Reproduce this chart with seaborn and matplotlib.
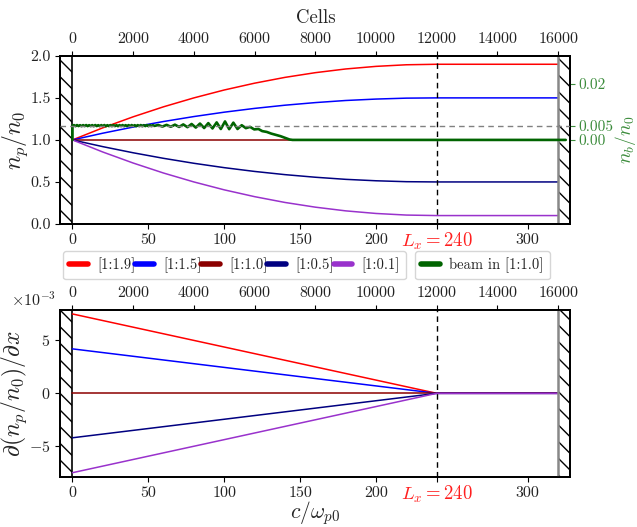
import numpy as np
import pandas as pd
import seaborn as sns
import matplotlib
matplotlib.use("Agg")
import matplotlib.pyplot as plt
from matplotlib.ticker import ScalarFormatter

# ---- data -------------------------------------------------------------
# density profiles n_p/n_0 sampled along x (c/omega_p0)
x_prof = [0, 20, 40, 60, 80, 100, 120, 140, 160, 180, 200, 220, 240, 320]
n_19 = [1.000, 1.144, 1.275, 1.394, 1.500, 1.594, 1.675, 1.744, 1.800, 1.844, 1.875, 1.894, 1.900, 1.900]
n_15 = [1.000, 1.080, 1.153, 1.219, 1.278, 1.330, 1.375, 1.413, 1.444, 1.469, 1.486, 1.497, 1.500, 1.500]
n_10 = [1.000, 1.000, 1.000, 1.000, 1.000, 1.000, 1.000, 1.000, 1.000, 1.000, 1.000, 1.000, 1.000, 1.000]
n_05 = [1.000, 0.920, 0.847, 0.781, 0.722, 0.670, 0.625, 0.587, 0.556, 0.531, 0.514, 0.503, 0.500, 0.500]
n_01 = [1.000, 0.856, 0.725, 0.606, 0.500, 0.406, 0.325, 0.256, 0.200, 0.156, 0.125, 0.106, 0.100, 0.100]

# density gradients d(n_p/n_0)/dx
x_grad = [0, 240, 320]
g_19 = [0.0075, 0.0, 0.0]
g_15 = [0.0042, 0.0, 0.0]
g_10 = [0.0, 0.0, 0.0]
g_05 = [-0.0042, 0.0, 0.0]
g_01 = [-0.0075, 0.0, 0.0]

labels = ["[1:1.9]", "[1:1.5]", "[1:1.0]", "[1:0.5]", "[1:0.1]"]
colors = ["#ff0000", "#0000ff", "#8b0000", "#000080", "#9932cc"]

# beam density n_b/n_0 in the [1:1.0] plasma
beam_x = [0, 0, 1, 2, 3, 4, 5, 6, 7, 8, 9, 10, 11, 12, 13, 14, 15, 16, 17, 18, 19,
          20, 21, 22, 23, 24, 25, 26, 27, 28, 29, 30, 31, 32, 33, 34, 35, 36, 37,
          38, 39, 40, 41, 42, 43, 44, 45, 46, 47, 48, 49, 50, 51, 52, 53, 54,
          56.5, 59.25, 62, 64.75, 67.5, 70.25, 73, 75.75, 78.5, 81.25, 84, 86.75,
          89.5, 92.25, 95, 97.75, 100.5, 103.25, 106, 108.75, 111.5, 114.25, 117,
          119.75, 122.5, 125, 128, 131, 134, 137, 140, 143, 145, 325]
beam_nb = [0.0, 0.00510,
           0.00528, 0.00492, 0.00530, 0.00494, 0.00526, 0.00490, 0.00528, 0.00494,
           0.00530, 0.00492, 0.00526, 0.00494, 0.00528, 0.00490, 0.00530, 0.00494,
           0.00526, 0.00492, 0.00528, 0.00494, 0.00530, 0.00490, 0.00526, 0.00494,
           0.00528, 0.00492, 0.00530, 0.00494, 0.00526, 0.00490, 0.00528, 0.00494,
           0.00530, 0.00492, 0.00526, 0.00494, 0.00528, 0.00490, 0.00530, 0.00494,
           0.00526, 0.00492, 0.00528, 0.00494, 0.00530, 0.00490, 0.00526, 0.00494,
           0.00528, 0.00492, 0.00530, 0.00494, 0.00526, 0.00500,
           0.00532, 0.00476, 0.00538, 0.00470, 0.00544, 0.00464, 0.00553, 0.00455,
           0.00569, 0.00440, 0.00584, 0.00425, 0.00599, 0.00410, 0.00625, 0.00390,
           0.00660, 0.00384, 0.00616, 0.00390, 0.00525, 0.00420, 0.00465, 0.00375,
           0.00390, 0.00315, 0.00285, 0.00225, 0.00180, 0.00135, 0.00075, 0.00015,
           0.0, 0.0]

x_ticks = [0, 50, 100, 150, 200, 240, 300]
x_tick_labels = ["0", "50", "100", "150", "200", "", "300"]
lx_label = r"$L_x = 240$"
cell_ticks = [0, 2000, 4000, 6000, 8000, 10000, 12000, 14000, 16000]
nb_ticks = [0.0, 0.005, 0.02]
nb_tick_labels = ["0.00", "0.005", "0.02"]

L_x = 240
x_end = 320
cells_per_unit = 50

# ---- style ------------------------------------------------------------
sns.set_style("ticks")
plt.rcParams.update({
    "font.family": ["cmr10", "DejaVu Serif"],
    "mathtext.fontset": "cm",
    "axes.formatter.use_mathtext": True,
    "axes.unicode_minus": True,
    "font.size": 11,
    "xtick.labelsize": 11.5,
    "ytick.labelsize": 11.5,
    "text.color": "#222222",
    "xtick.color": "black",
    "ytick.color": "black",
    "xtick.labelcolor": "#222222",
    "ytick.labelcolor": "#222222",
    "axes.edgecolor": "black",
    "axes.linewidth": 1.3,
    "hatch.linewidth": 1.0,
})

GREEN = "#006400"
GREEN_TXT = "#3c8c3c"
XLIM = (-8, 328)

fig = plt.figure(figsize=(6.37, 5.27), dpi=100)
ax1 = fig.add_axes([0.0947, 0.575, 0.8006, 0.319])
ax2 = fig.add_axes([0.0947, 0.0955, 0.8006, 0.3163])


def walls(ax):
    ax.axvspan(XLIM[0], 0, facecolor="white", edgecolor="black", hatch="\\\\", lw=0, zorder=0.5)
    ax.axvspan(x_end, XLIM[1], facecolor="white", edgecolor="black", hatch="\\\\", lw=0, zorder=0.5)
    ax.axvline(0, color="black", lw=1.2, zorder=1)
    ax.axvline(x_end, color="#888888", lw=1.8, zorder=3)
    ax.axvline(L_x, color="black", ls="--", lw=1.0, dashes=(4, 3), zorder=3)


def x_axis(ax):
    ax.set_xlim(*XLIM)
    ax.set_xticks(x_ticks)
    ax.set_xticklabels(x_tick_labels)
    ax.annotate(lx_label, xy=(L_x, 0), xycoords=("data", "axes fraction"),
                xytext=(0, -5.0), textcoords="offset points", ha="center", va="top",
                fontsize=13.5, color="#ff2020", annotation_clip=False)
    top = ax.twiny()
    top.set_xlim(XLIM[0] * cells_per_unit, XLIM[1] * cells_per_unit)
    top.set_xticks(cell_ticks)
    return top


# ---- top panel: density profiles + beam -------------------------------
profiles = [n_19, n_15, n_10, n_05, n_01]
for prof, lab, col in zip(profiles, labels, colors):
    sns.lineplot(x=x_prof, y=prof, ax=ax1, color=col, lw=1.1, label=lab, legend=False)
walls(ax1)
ax1.set_ylim(0, 2)
ax1.set_yticks([0.0, 0.5, 1.0, 1.5, 2.0])
ax1.set_yticklabels(["0.0", "0.5", "1.0", "1.5", "2.0"])
ax1.set_ylabel(r"$n_p/n_0$", fontsize=17, labelpad=0)
top1 = x_axis(ax1)
top1.set_xlabel("Cells", fontsize=13.5, labelpad=6)

axb = ax1.twinx()
sns.lineplot(x=beam_x, y=beam_nb, ax=axb, color=GREEN, lw=1.9, sort=False,
             estimator=None, label="beam in [1:1.0]", legend=False)
axb.axhline(0.005, color="gray", ls="--", lw=1.0, dashes=(4, 3), zorder=5)
axb.set_ylim(-0.03, 0.03)
axb.set_yticks(nb_ticks)
axb.set_yticklabels(nb_tick_labels)
axb.tick_params(axis="y", colors=GREEN_TXT, labelcolor=GREEN_TXT, pad=2, labelsize=11)
axb.set_ylabel(r"$n_b/n_0$", fontsize=14, color=GREEN_TXT, labelpad=0)
axb.set_xlim(*XLIM)

# legends between the panels
leg_kw = dict(loc="center", fontsize=10.5, handlelength=1.3, handletextpad=0.6,
              borderpad=0.45, borderaxespad=0.0, framealpha=0.8, edgecolor="0.8",
              fancybox=True)
h1, l1 = ax1.get_legend_handles_labels()
leg1 = fig.legend(h1, l1, bbox_to_anchor=(0.368, 0.497), ncol=5, columnspacing=0.0, **leg_kw)
hb, lb = axb.get_legend_handles_labels()
leg2 = fig.legend(hb, lb, bbox_to_anchor=(0.757, 0.497), ncol=1, **leg_kw)
for leg in (leg1, leg2):
    for ln in leg.get_lines():
        ln.set_linewidth(4)

# ---- bottom panel: density gradients ----------------------------------
gradients = [g_19, g_15, g_10, g_05, g_01]
for grad, lab, col in zip(gradients, labels, colors):
    sns.lineplot(x=x_grad, y=grad, ax=ax2, color=col, lw=1.1, legend=False)
walls(ax2)
ax2.set_ylim(-0.007875, 0.007875)
ax2.set_yticks([-0.005, 0.0, 0.005])
fmt = ScalarFormatter(useMathText=True)
fmt.set_powerlimits((-2, 2))
ax2.yaxis.set_major_formatter(fmt)
off = ax2.yaxis.get_offset_text()
off.set_x(-0.008)
off.set_horizontalalignment("right")
off.set_fontsize(11.5)
ax2.set_ylabel(r"$\partial (n_p/n_0)/\partial x$", fontsize=17, labelpad=0)
ax2.set_xlabel(r"$c/\omega_{p0}$", fontsize=15.5, labelpad=-1)
x_axis(ax2)

fig.savefig("out.png", dpi=100)
